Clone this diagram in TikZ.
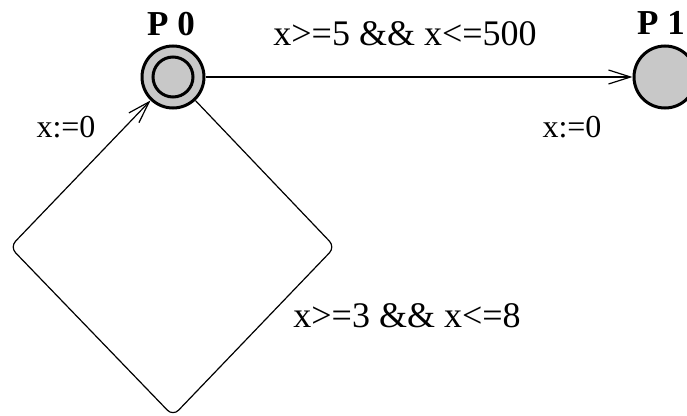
\documentclass[tikz,border=0pt]{standalone}
\usepackage{fontspec}
\setmainfont{Liberation Serif}
\usetikzlibrary{arrows.meta}
\definecolor{locgray}{RGB}{200,200,200}

\begin{document}
\begin{tikzpicture}[x=1pt,y=-1pt,
  loc/.style={circle,draw=black,line width=3pt,fill=locgray,minimum size=62pt,inner sep=0pt},
  edge/.style={draw=black,line width=1.2pt,-{Straight Barb[length=22pt,width=14pt]}},
  lbl/.style={anchor=base,inner sep=0pt,font=\fontsize{32}{40}\selectfont},
  guard/.style={anchor=base,inner sep=0pt,font=\fontsize{36}{42}\selectfont},
  locname/.style={anchor=base,inner sep=0pt,font=\fontsize{35}{42}\selectfont\bfseries}]
  \useasboundingbox (0,0) rectangle (687,415);

  % locations
  \node[loc] (p0) at (173,77) {};
  \node[circle,draw=black,line width=3pt,minimum size=40pt,inner sep=0pt] (p0in) at (p0) {};
  \node[loc] (p1) at (665,77) {};
  \node[locname] (p0name) at (171,35) {P 0};
  \node[locname] (p1name) at (661,34) {P 1};

  % transition P0 -> P1
  \draw[edge] (p0) -- (p1);
  \node[guard] (g01) at (405,45) {x>=5 \&\& x<=500};
  \node[lbl] (a01) at (572,137) {x:=0};

  % self loop on P0
  \coordinate (cR) at (335,247);
  \coordinate (cB) at (173,416);
  \coordinate (cL) at (10,247);
  \draw[edge,rounded corners=8pt] (p0) -- (cR) -- (cB) -- (cL) -- (p0);
  \node[guard] (g00) at (407,327) {x>=3 \&\& x<=8};
  \node[lbl] (a00) at (66,137) {x:=0};
\end{tikzpicture}
\end{document}
